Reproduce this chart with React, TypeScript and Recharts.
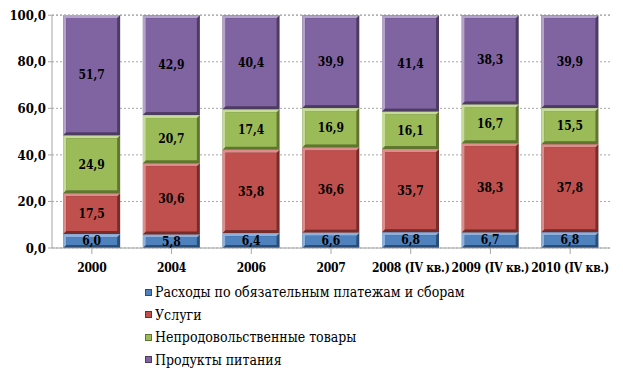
import React from 'react';
import { BarChart, Bar, XAxis, YAxis, CartesianGrid, LabelList, Customized } from 'recharts';

const categories = ['2000', '2004', '2006', '2007', '2008 (IV кв.)', '2009 (IV кв.)', '2010 (IV кв.)'];
const payments = [6.0, 5.8, 6.4, 6.6, 6.8, 6.7, 6.8];
const services = [17.5, 30.6, 35.8, 36.6, 35.7, 38.3, 37.8];
const nonFood = [24.9, 20.7, 17.4, 16.9, 16.1, 16.7, 15.5];
const food = [51.7, 42.9, 40.4, 39.9, 41.4, 38.3, 39.9];
const yTicks = [0, 20, 40, 60, 80, 100];

const seriesNames = {
  payments: 'Расходы по обязательным платежам и сборам',
  services: 'Услуги',
  nonFood: 'Непродовольственные товары',
  food: 'Продукты питания',
};

const colors = {
  payments: { base: '#4F81BD', dark: '#2C4D75', light: '#8EB0DC' },
  services: { base: '#C0504D', dark: '#772C2A', light: '#DC8E8C' },
  nonFood: { base: '#9BBB59', dark: '#5F7530', light: '#C6DB9A' },
  food: { base: '#8064A2', dark: '#4D3B62', light: '#B3A2CA' },
};

const data = categories.map((c, i) => ({
  name: c,
  payments: payments[i],
  services: services[i],
  nonFood: nonFood[i],
  food: food[i],
}));

const FONT = "'DejaVu Serif Condensed', 'DejaVu Serif', serif";
const fmt = (v: number) => Number(v).toFixed(1).replace('.', ',');

const makeShape = (c: { base: string; dark: string; light: string }) => (props: any) => {
  const { x, y, width, height } = props;
  if (!height || height <= 0) return null;
  const b = Math.min(3, height / 3);
  return (
    <g>
      <rect x={x} y={y} width={width} height={height} fill={c.dark} />
      <polygon
        points={`${x},${y} ${x + width},${y} ${x + width - b},${y + b} ${x + b},${y + b} ${x + b},${y + height - b} ${x},${y + height}`}
        fill={c.light}
      />
      <rect x={x + b} y={y + b} width={width - 2 * b} height={height - 2 * b} fill={c.base} />
    </g>
  );
};

const Frame = () => (
  <rect x={1.5} y={1.5} width={619} height={374} fill="none" stroke="#7F7F7F" strokeWidth={1} strokeDasharray="1 1" />
);

const keys: (keyof typeof colors)[] = ['payments', 'services', 'nonFood', 'food'];

export default function App() {
  return (
    <div
      style={{
        position: 'relative',
        width: 623,
        height: 378,
        margin: -8,
        background: '#fff',
        fontFamily: FONT,
      }}
    >
      <BarChart
        width={623}
        height={378}
        data={data}
        margin={{ top: 15, right: 13, left: 8, bottom: 100 }}
        barCategoryGap="14%"
      >
        <CartesianGrid vertical={false} stroke="#A6A6A6" strokeDasharray="2 2" />
        <XAxis
          dataKey="name"
          height={30}
          stroke="#A6A6A6"
          tickLine={{ stroke: '#A6A6A6' }}
          tick={{ fill: '#000', fontSize: 12, fontWeight: 'bold', fontFamily: FONT, letterSpacing: -0.2 }}
          tickMargin={9}
          interval={0}
        />
        <YAxis
          width={44}
          domain={[0, 100]}
          ticks={yTicks}
          tickFormatter={fmt}
          stroke="#A6A6A6"
          tick={{ fill: '#000', fontSize: 13, fontWeight: 'bold', fontFamily: FONT }}
          tickSize={4}
          tickMargin={2}
        />
        {keys.map((k) => (
          <Bar key={k} dataKey={k} stackId="a" name={seriesNames[k]} isAnimationActive={false} shape={makeShape(colors[k])}>
            <LabelList
              dataKey={k}
              position="center"
              formatter={fmt}
              fill="#000"
              style={{ fontSize: 12, fontWeight: 'bold', fontFamily: FONT }}
            />
          </Bar>
        ))}
        <Customized component={Frame} />
      </BarChart>
      <div style={{ position: 'absolute', left: 145, top: 281, fontSize: 14, lineHeight: '22.5px', color: '#000', fontFamily: FONT }}>
        {keys.map((k) => (
          <div key={k} style={{ display: 'flex', alignItems: 'center', whiteSpace: 'nowrap' }}>
            <span
              style={{
                display: 'inline-block',
                width: 5,
                height: 5,
                background: colors[k].base,
                border: `1px solid ${colors[k].dark}`,
                marginRight: 3,
              }}
            />
            <span>{seriesNames[k]}</span>
          </div>
        ))}
      </div>
    </div>
  );
}
